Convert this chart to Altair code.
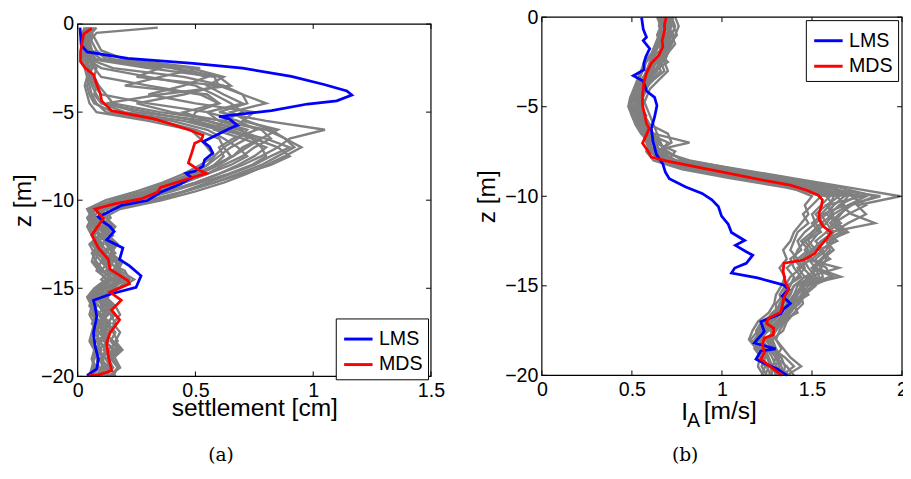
import altair as alt
import pandas as pd

FONT = "Liberation Sans"

# ---------------- panel (a): settlement ----------------
depth_a = [-0.2, -0.5, -1.0, -1.5, -2.0, -2.5, -3.0, -3.5, -4.0, -4.5,
           -5.0, -5.5, -6.0, -6.5, -7.0, -7.5, -8.0, -8.5, -9.0, -9.5,
           -10.0, -10.5, -11.0, -11.5, -12.0, -12.5, -13.0, -13.5, -14.0, -14.5,
           -15.0, -15.5, -16.0, -16.5, -17.0, -17.5, -18.0, -18.5, -19.0, -19.5, -20.0]

a_g01 = [0.34, 0.08, 0.05, 0.04, 0.06, 0.30, 0.58, 0.60, 0.45, 0.25, 0.40, 0.62, 0.78, 0.82, 0.75,
         0.70, 0.62, 0.55, 0.45, 0.33, 0.20, 0.08, 0.10, 0.14, 0.09, 0.13, 0.16, 0.12, 0.20, 0.22,
         0.10, 0.06, 0.09, 0.12, 0.10, 0.14, 0.10, 0.08, 0.12, 0.15, 0.10]
a_g02 = [0.06, 0.05, 0.04, 0.03, 0.05, 0.15, 0.45, 0.62, 0.70, 0.72, 0.60, 0.80, 1.05, 0.90, 0.85,
         0.78, 0.70, 0.60, 0.50, 0.38, 0.24, 0.10, 0.06, 0.08, 0.12, 0.07, 0.10, 0.14, 0.12, 0.18,
         0.15, 0.08, 0.06, 0.10, 0.14, 0.09, 0.12, 0.15, 0.09, 0.11, 0.07]
a_g03 = [0.04, 0.03, 0.02, 0.02, 0.03, 0.04, 0.05, 0.04, 0.05, 0.07, 0.15, 0.40, 0.55, 0.62, 0.68,
         0.72, 0.65, 0.55, 0.45, 0.35, 0.22, 0.06, 0.08, 0.05, 0.07, 0.10, 0.08, 0.12, 0.14, 0.10,
         0.16, 0.12, 0.15, 0.11, 0.13, 0.16, 0.14, 0.17, 0.13, 0.15, 0.12]
a_g04 = [0.08, 0.06, 0.05, 0.06, 0.07, 0.06, 0.05, 0.06, 0.08, 0.10, 0.30, 0.50, 0.65, 0.75, 0.85,
         0.90, 0.82, 0.70, 0.58, 0.45, 0.30, 0.12, 0.08, 0.10, 0.07, 0.11, 0.09, 0.13, 0.10, 0.16,
         0.13, 0.05, 0.08, 0.07, 0.10, 0.08, 0.06, 0.09, 0.07, 0.06, 0.05]
a_g05 = [0.05, 0.06, 0.08, 0.10, 0.20, 0.52, 0.35, 0.20, 0.55, 0.60, 0.45, 0.55, 0.70, 0.72, 0.65,
         0.60, 0.55, 0.48, 0.38, 0.28, 0.15, 0.05, 0.07, 0.09, 0.06, 0.08, 0.12, 0.10, 0.14, 0.13,
         0.08, 0.10, 0.13, 0.16, 0.12, 0.10, 0.13, 0.11, 0.14, 0.12, 0.09]
a_g06 = [0.03, 0.02, 0.02, 0.03, 0.04, 0.10, 0.30, 0.50, 0.58, 0.65, 0.70, 0.62, 0.58, 0.70, 0.80,
         0.75, 0.68, 0.60, 0.50, 0.38, 0.26, 0.12, 0.14, 0.10, 0.13, 0.15, 0.11, 0.16, 0.18, 0.24,
         0.18, 0.09, 0.12, 0.15, 0.13, 0.11, 0.15, 0.18, 0.14, 0.17, 0.14]
a_g07 = [0.07, 0.05, 0.04, 0.03, 0.03, 0.05, 0.04, 0.03, 0.04, 0.05, 0.08, 0.30, 0.48, 0.52, 0.55,
         0.58, 0.55, 0.48, 0.40, 0.30, 0.18, 0.07, 0.04, 0.06, 0.09, 0.05, 0.07, 0.06, 0.09, 0.12,
         0.07, 0.04, 0.06, 0.05, 0.07, 0.06, 0.05, 0.07, 0.06, 0.08, 0.04]
a_g08 = [0.05, 0.04, 0.03, 0.04, 0.08, 0.40, 0.55, 0.45, 0.30, 0.50, 0.75, 0.70, 0.85, 0.78, 0.70,
         0.66, 0.60, 0.50, 0.40, 0.30, 0.16, 0.09, 0.12, 0.15, 0.11, 0.16, 0.14, 0.19, 0.17, 0.21,
         0.14, 0.11, 0.14, 0.10, 0.12, 0.15, 0.17, 0.13, 0.16, 0.18, 0.13]
a_g09 = [0.04, 0.04, 0.03, 0.03, 0.04, 0.05, 0.06, 0.08, 0.07, 0.10, 0.20, 0.45, 0.60, 0.80, 0.90,
         0.82, 0.75, 0.65, 0.55, 0.45, 0.35, 0.15, 0.09, 0.12, 0.15, 0.10, 0.13, 0.17, 0.15, 0.19,
         0.11, 0.07, 0.11, 0.13, 0.09, 0.12, 0.09, 0.12, 0.10, 0.13, 0.11]
a_g10 = [0.06, 0.05, 0.06, 0.08, 0.12, 0.48, 0.62, 0.55, 0.62, 0.70, 0.55, 0.60, 0.72, 0.68, 0.62,
         0.58, 0.52, 0.45, 0.36, 0.25, 0.12, 0.04, 0.06, 0.04, 0.06, 0.09, 0.06, 0.08, 0.11, 0.14,
         0.09, 0.06, 0.05, 0.08, 0.06, 0.09, 0.08, 0.10, 0.08, 0.09, 0.06]
a_g11 = [0.05, 0.03, 0.02, 0.02, 0.02, 0.03, 0.04, 0.05, 0.06, 0.08, 0.12, 0.35, 0.50, 0.60, 0.62,
         0.65, 0.60, 0.52, 0.42, 0.32, 0.20, 0.10, 0.13, 0.11, 0.14, 0.12, 0.15, 0.11, 0.13, 0.17,
         0.12, 0.13, 0.10, 0.14, 0.16, 0.13, 0.11, 0.16, 0.12, 0.14, 0.16]
a_g12 = [0.04, 0.03, 0.03, 0.05, 0.10, 0.35, 0.25, 0.60, 0.70, 0.80, 0.65, 0.72, 0.82, 0.88, 0.92,
         0.85, 0.78, 0.68, 0.58, 0.46, 0.32, 0.08, 0.05, 0.07, 0.10, 0.06, 0.09, 0.07, 0.10, 0.15,
         0.10, 0.08, 0.07, 0.09, 0.11, 0.07, 0.10, 0.08, 0.11, 0.10, 0.08]
a_g13 = [0.05, 0.04, 0.04, 0.05, 0.06, 0.08, 0.07, 0.09, 0.12, 0.15, 0.35, 0.62, 0.80, 0.88, 0.95,
         0.88, 0.80, 0.72, 0.62, 0.50, 0.36, 0.18, 0.11, 0.09, 0.13, 0.16, 0.12, 0.10, 0.14, 0.18,
         0.16, 0.09, 0.10, 0.12, 0.08, 0.11, 0.13, 0.09, 0.12, 0.14, 0.10]
a_g14 = [0.07, 0.06, 0.05, 0.06, 0.15, 0.42, 0.60, 0.65, 0.35, 0.12, 0.25, 0.55, 0.68, 0.78, 0.72,
         0.66, 0.58, 0.52, 0.44, 0.34, 0.22, 0.11, 0.09, 0.12, 0.10, 0.14, 0.11, 0.15, 0.13, 0.18,
         0.12, 0.08, 0.11, 0.09, 0.13, 0.12, 0.09, 0.13, 0.10, 0.12, 0.09]
a_g15 = [0.03, 0.03, 0.04, 0.04, 0.05, 0.07, 0.10, 0.30, 0.52, 0.60, 0.50, 0.48, 0.62, 0.74, 0.78,
         0.80, 0.74, 0.64, 0.52, 0.40, 0.26, 0.07, 0.05, 0.08, 0.06, 0.09, 0.07, 0.10, 0.08, 0.13,
         0.08, 0.05, 0.07, 0.06, 0.09, 0.07, 0.06, 0.08, 0.06, 0.07, 0.05]
a_g16 = [0.06, 0.05, 0.05, 0.04, 0.05, 0.06, 0.05, 0.07, 0.10, 0.30, 0.55, 0.68, 0.76, 0.66, 0.60,
         0.62, 0.58, 0.50, 0.42, 0.30, 0.16, 0.10, 0.12, 0.16, 0.13, 0.17, 0.14, 0.18, 0.16, 0.22,
         0.17, 0.12, 0.16, 0.18, 0.15, 0.18, 0.16, 0.19, 0.15, 0.17, 0.15]

a_lms_x = [0.010, 0.015, 0.040, 0.213, 0.490, 0.700, 0.907, 1.046, 1.143, 1.164, 1.100, 0.976,
           0.823, 0.600, 0.643, 0.678, 0.643, 0.532, 0.560, 0.574, 0.539, 0.532, 0.497, 0.460,
           0.484, 0.435, 0.352, 0.296, 0.185, 0.144, 0.088, 0.109, 0.137, 0.155, 0.123, 0.192,
           0.178, 0.220, 0.269, 0.248, 0.144, 0.067, 0.074, 0.081, 0.067, 0.074, 0.088, 0.081, 0.040]
a_lms_z = [-0.2, -1.2, -1.58, -1.95, -2.23, -2.5, -2.97, -3.43, -3.8, -4.03, -4.36, -4.54,
           -4.92, -5.25, -5.38, -5.75, -5.94, -6.68, -6.96, -7.33, -7.7, -8.07, -8.35, -8.48,
           -8.72, -9.09, -9.55, -10.02, -10.3, -10.58, -10.95, -11.23, -11.5, -11.78, -12.25, -12.71,
           -13.36, -13.73, -14.29, -14.94, -15.31, -15.68, -16.05, -16.61, -17.54, -18.28, -19.02, -19.58, -19.95]

a_mds_x = [0.060, 0.026, 0.019, 0.012, 0.012, 0.032, 0.067, 0.081, 0.095, 0.102, 0.144, 0.213,
           0.324, 0.393, 0.477, 0.532, 0.525, 0.497, 0.484, 0.470, 0.511, 0.546, 0.463, 0.352,
           0.338, 0.269, 0.157, 0.074, 0.109, 0.060, 0.088, 0.130, 0.137, 0.213, 0.220, 0.137,
           0.185, 0.144, 0.178, 0.137, 0.123, 0.130, 0.144, 0.088, 0.047]
a_mds_z = [-0.24, -0.56, -1.02, -1.58, -2.13, -2.5, -2.87, -3.43, -3.9, -4.36, -4.92, -5.1,
           -5.38, -5.66, -6.03, -6.31, -6.59, -6.77, -7.33, -7.88, -8.26, -8.48, -8.81, -9.28,
           -9.55, -9.93, -10.21, -10.5, -11.04, -11.97, -12.71, -13.36, -13.92, -14.57, -14.75, -15.22,
           -15.68, -16.24, -16.79, -17.54, -18.1, -18.84, -19.67, -19.91, -19.95]

# ---------------- panel (b): Arias intensity ----------------
depth_b = [0.0, -0.5, -1.0, -1.5, -2.0, -2.5, -3.0, -3.5, -4.0, -4.5,
           -5.0, -5.5, -6.0, -6.5, -7.0, -7.5, -8.0, -8.5, -9.0, -9.5,
           -10.0, -10.5, -11.0, -11.5, -12.0, -12.5, -13.0, -13.5, -14.0, -14.5,
           -15.0, -15.5, -16.0, -16.5, -17.0, -17.5, -18.0, -18.5, -19.0, -19.5, -20.0]

b_g01 = [0.70, 0.72, 0.70, 0.68, 0.66, 0.62, 0.60, 0.58, 0.55, 0.54, 0.52, 0.55, 0.58, 0.60, 0.62,
         0.64, 0.75, 1.00, 1.30, 1.50, 1.62, 1.60, 1.55, 1.58, 1.62, 1.55, 1.50, 1.45, 1.48, 1.52,
         1.42, 1.40, 1.36, 1.32, 1.28, 1.25, 1.22, 1.26, 1.30, 1.28, 1.32]
b_g02 = [0.66, 0.65, 0.68, 0.70, 0.64, 0.60, 0.62, 0.58, 0.54, 0.52, 0.55, 0.58, 0.56, 0.62, 0.82,
         0.60, 0.70, 0.90, 1.20, 1.45, 1.80, 1.70, 1.62, 1.55, 1.50, 1.48, 1.52, 1.46, 1.65, 1.48,
         1.45, 1.40, 1.38, 1.35, 1.30, 1.26, 1.20, 1.25, 1.28, 1.30, 1.26]
b_g03 = [0.72, 0.74, 0.72, 0.70, 0.68, 0.66, 0.64, 0.60, 0.58, 0.56, 0.58, 0.60, 0.62, 0.64, 0.66,
         0.68, 0.80, 1.10, 1.40, 1.70, 1.99, 1.75, 1.80, 1.70, 1.62, 1.58, 1.60, 1.55, 1.50, 1.62,
         1.50, 1.45, 1.42, 1.38, 1.35, 1.32, 1.30, 1.34, 1.38, 1.44, 1.36]
b_g04 = [0.68, 0.70, 0.66, 0.64, 0.62, 0.58, 0.56, 0.54, 0.52, 0.50, 0.50, 0.52, 0.54, 0.56, 0.58,
         0.60, 0.66, 0.85, 1.15, 1.40, 1.55, 1.50, 1.45, 1.48, 1.42, 1.40, 1.38, 1.42, 1.36, 1.40,
         1.38, 1.35, 1.32, 1.30, 1.26, 1.22, 1.18, 1.20, 1.24, 1.22, 1.25]
b_g05 = [0.74, 0.76, 0.74, 0.72, 0.70, 0.68, 0.70, 0.65, 0.60, 0.58, 0.56, 0.57, 0.60, 0.70, 0.72,
         0.64, 0.72, 0.95, 1.25, 1.52, 1.70, 1.66, 1.72, 1.85, 1.60, 1.62, 1.55, 1.58, 1.55, 1.56,
         1.48, 1.44, 1.45, 1.40, 1.36, 1.34, 1.28, 1.30, 1.33, 1.35, 1.34]
b_g06 = [0.64, 0.66, 0.64, 0.66, 0.62, 0.60, 0.58, 0.56, 0.52, 0.50, 0.49, 0.50, 0.52, 0.55, 0.60,
         0.58, 0.62, 0.78, 1.05, 1.35, 1.58, 1.62, 1.58, 1.52, 1.55, 1.46, 1.42, 1.40, 1.44, 1.38,
         1.35, 1.32, 1.34, 1.28, 1.24, 1.20, 1.16, 1.22, 1.20, 1.24, 1.22]
b_g07 = [0.70, 0.68, 0.72, 0.74, 0.70, 0.66, 0.68, 0.62, 0.57, 0.55, 0.54, 0.56, 0.58, 0.60, 0.64,
         0.70, 0.78, 1.05, 1.35, 1.58, 1.75, 1.65, 1.60, 1.66, 1.58, 1.52, 1.56, 1.50, 1.58, 1.60,
         1.46, 1.42, 1.40, 1.42, 1.32, 1.28, 1.26, 1.28, 1.32, 1.30, 1.38]
b_g08 = [0.69, 0.71, 0.69, 0.67, 0.65, 0.70, 0.62, 0.60, 0.56, 0.53, 0.51, 0.53, 0.55, 0.58, 0.60,
         0.62, 0.70, 0.92, 1.22, 1.48, 1.65, 1.58, 1.52, 1.56, 1.50, 1.44, 1.48, 1.42, 1.45, 1.50,
         1.40, 1.37, 1.36, 1.33, 1.28, 1.24, 1.22, 1.24, 1.26, 1.28, 1.30]
b_g09 = [0.72, 0.70, 0.66, 0.65, 0.67, 0.63, 0.61, 0.57, 0.53, 0.51, 0.53, 0.55, 0.57, 0.59, 0.70,
         0.66, 0.74, 0.98, 1.28, 1.65, 1.85, 1.72, 1.65, 1.60, 1.66, 1.56, 1.52, 1.48, 1.52, 1.66,
         1.44, 1.48, 1.40, 1.36, 1.34, 1.30, 1.24, 1.28, 1.35, 1.40, 1.33]
b_g10 = [0.67, 0.69, 0.71, 0.69, 0.66, 0.64, 0.60, 0.56, 0.54, 0.52, 0.52, 0.54, 0.56, 0.58, 0.62,
         0.63, 0.68, 0.88, 1.18, 1.42, 1.60, 1.55, 1.50, 1.52, 1.46, 1.42, 1.44, 1.38, 1.40, 1.44,
         1.36, 1.34, 1.30, 1.30, 1.22, 1.19, 1.20, 1.18, 1.22, 1.26, 1.24]
b_g11 = [0.71, 0.73, 0.75, 0.71, 0.69, 0.67, 0.63, 0.59, 0.56, 0.55, 0.55, 0.56, 0.59, 0.61, 0.63,
         0.66, 0.82, 1.08, 1.38, 1.62, 1.72, 1.80, 1.70, 1.62, 1.68, 1.60, 1.58, 1.52, 1.55, 1.46,
         1.52, 1.46, 1.43, 1.36, 1.30, 1.27, 1.30, 1.33, 1.30, 1.36, 1.40]
b_g12 = [0.65, 0.67, 0.65, 0.63, 0.61, 0.57, 0.55, 0.53, 0.51, 0.49, 0.48, 0.50, 0.53, 0.57, 0.59,
         0.61, 0.64, 0.82, 1.10, 1.38, 1.50, 1.46, 1.48, 1.44, 1.40, 1.38, 1.34, 1.36, 1.32, 1.35,
         1.33, 1.30, 1.29, 1.26, 1.20, 1.17, 1.15, 1.19, 1.21, 1.20, 1.23]
b_g13 = [0.68, 0.70, 0.73, 0.72, 0.68, 0.64, 0.66, 0.61, 0.58, 0.56, 0.53, 0.54, 0.56, 0.60, 0.61,
         0.65, 0.72, 0.96, 1.24, 1.50, 1.68, 1.62, 1.58, 1.64, 1.70, 1.58, 1.62, 1.56, 1.52, 1.54,
         1.46, 1.44, 1.40, 1.38, 1.33, 1.30, 1.27, 1.29, 1.31, 1.33, 1.35]
b_g14 = [0.73, 0.71, 0.70, 0.72, 0.67, 0.65, 0.63, 0.57, 0.55, 0.53, 0.52, 0.54, 0.57, 0.62, 0.65,
         0.62, 0.69, 0.90, 1.16, 1.44, 1.64, 1.68, 1.56, 1.50, 1.54, 1.50, 1.46, 1.50, 1.42, 1.46,
         1.40, 1.38, 1.34, 1.31, 1.27, 1.23, 1.21, 1.23, 1.25, 1.27, 1.28]
b_g15 = [0.66, 0.68, 0.67, 0.65, 0.63, 0.61, 0.59, 0.55, 0.53, 0.51, 0.50, 0.51, 0.54, 0.56, 0.63,
         0.74, 0.70, 0.86, 1.12, 1.40, 1.78, 1.58, 1.62, 1.58, 1.52, 1.46, 1.50, 1.44, 1.46, 1.42,
         1.37, 1.36, 1.33, 1.29, 1.25, 1.21, 1.19, 1.21, 1.23, 1.25, 1.27]
b_g16 = [0.70, 0.69, 0.68, 0.70, 0.66, 0.63, 0.62, 0.59, 0.56, 0.54, 0.54, 0.55, 0.58, 0.60, 0.62,
         0.64, 0.73, 0.97, 1.26, 1.54, 1.88, 1.70, 1.66, 1.62, 1.58, 1.64, 1.54, 1.60, 1.50, 1.52,
         1.44, 1.41, 1.39, 1.37, 1.31, 1.29, 1.25, 1.27, 1.30, 1.32, 1.30]

b_lms_x = [0.554, 0.563, 0.581, 0.563, 0.599, 0.577, 0.566, 0.568, 0.508, 0.563, 0.581, 0.626,
           0.639, 0.626, 0.608, 0.617, 0.636, 0.672, 0.686, 0.708, 0.799, 0.890, 0.944, 0.980,
           0.998, 1.035, 1.053, 1.126, 1.075, 1.135, 1.171, 1.135, 1.071, 1.053, 1.198, 1.344,
           1.371, 1.334, 1.380, 1.344, 1.326, 1.216, 1.235, 1.180, 1.298, 1.216, 1.189, 1.243, 1.307, 1.362]
b_lms_z = [-0.03, -0.67, -1.12, -1.31, -1.76, -2.21, -2.58, -2.94, -3.27, -3.57, -4.12, -4.48,
           -4.93, -5.57, -6.21, -6.93, -7.66, -8.2, -8.66, -9.02, -9.48, -9.84, -10.2, -10.57,
           -11.11, -11.56, -12.02, -12.47, -12.74, -13.1, -13.29, -13.74, -14.01, -14.29, -14.56, -14.96,
           -15.2, -15.56, -15.98, -16.29, -16.56, -17.01, -17.55, -18.19, -18.52, -18.64, -19.1, -19.37, -19.64, -20.0]

b_mds_x = [0.690, 0.681, 0.681, 0.668, 0.672, 0.650, 0.608, 0.581, 0.566, 0.559, 0.559, 0.572,
           0.581, 0.596, 0.581, 0.559, 0.590, 0.608, 0.690, 0.871, 1.053, 1.235, 1.380, 1.471,
           1.534, 1.558, 1.552, 1.540, 1.540, 1.561, 1.607, 1.580, 1.534, 1.516, 1.453, 1.344,
           1.340, 1.353, 1.371, 1.344, 1.334, 1.326, 1.256, 1.248, 1.288, 1.285, 1.235, 1.225,
           1.235, 1.216, 1.262, 1.298, 1.334]
b_mds_z = [-0.03, -0.4, -0.76, -1.31, -1.67, -2.12, -2.58, -3.12, -3.67, -4.39, -4.93, -5.48,
           -5.94, -6.21, -6.57, -7.03, -7.48, -7.81, -8.02, -8.39, -8.75, -9.11, -9.38, -9.66,
           -9.93, -10.2, -10.57, -10.93, -11.29, -11.66, -12.02, -12.38, -12.93, -13.2, -13.56, -13.74,
           -14.19, -14.83, -15.2, -15.65, -16.19, -16.47, -16.83, -17.1, -17.37, -17.73, -17.92, -18.28,
           -18.74, -19.1, -19.46, -19.73, -20.0]

a_xticks = [0, 0.5, 1, 1.5]
b_xticks = [0, 0.5, 1, 1.5, 2]
z_ticks = [0, -5, -10, -15, -20]
methods = ["LMS", "MDS"]
method_colors = ["#0000ff", "#ff0000"]
captions = ["(a)", "(b)"]


def gray_frame(lines, depth):
    rows = []
    for k, xs in enumerate(lines):
        for i, (x, z) in enumerate(zip(xs, depth)):
            rows.append({"x": x, "z": z, "run": k, "i": i})
    return pd.DataFrame(rows)


def line_frame(xs, zs, name):
    return pd.DataFrame({"x": xs, "z": zs, "method": name, "i": list(range(len(xs)))})


def one(text):
    return pd.DataFrame({"t": [text]})


def panel(gray, lms, mds, xmax, xticks, W, H, top, xtitle, lx, ly, caption, extra):
    xs = alt.Scale(domain=[0, xmax], nice=False, zero=False)
    ys = alt.Scale(domain=[-20, 0], nice=False, zero=False, range=[H, top])
    axis_kw = dict(ticks=False, domain=False, grid=False, labelFlush=False,
                   labelFontSize=20, labelFont=FONT, labelColor="black", titleFontSize=25,
                   titleFont=FONT, titleColor="black", titleFontWeight="normal",
                   format="~g", labelOverlap=False)
    xaxis = alt.Axis(values=xticks, labelPadding=5, title=xtitle, titlePadding=-5, **axis_kw)
    yaxis = alt.Axis(values=z_ticks, labelPadding=4, title="z [m]", titlePadding=5, **axis_kw)

    def ex(f):
        return alt.X(f"{f}:Q", scale=xs, axis=xaxis)

    def ey(f):
        return alt.Y(f"{f}:Q", scale=ys, axis=yaxis)

    leg = alt.Legend(title=None, orient="none", legendX=lx, legendY=ly, symbolType="stroke",
                     symbolStrokeWidth=3, symbolSize=840, symbolOffset=2, labelFontSize=20,
                     labelFont=FONT, labelColor="black", strokeColor="black", fillColor="white",
                     padding=5, rowPadding=-3, labelOffset=5, cornerRadius=0)
    col = alt.Color("method:N", scale=alt.Scale(domain=methods, range=method_colors), legend=leg)

    g = alt.Chart(gray).mark_line(color="#808080", strokeWidth=2.4).encode(
        x=ex("x"), y=ey("z"), detail="run:N", order="i:Q")
    b = alt.Chart(lms).mark_line(strokeWidth=2.8).encode(x=ex("x"), y=ey("z"), color=col, order="i:Q")
    r = alt.Chart(mds).mark_line(strokeWidth=2.8).encode(x=ex("x"), y=ey("z"), color=col, order="i:Q")

    xt = pd.DataFrame({"v": xticks})
    yt = pd.DataFrame({"v": z_ticks})
    tl = 5
    t1 = alt.Chart(xt).mark_rule(color="black", strokeWidth=1).encode(
        x=ex("v"), y=alt.value(H), y2=alt.value(H - tl))
    t2 = alt.Chart(xt).mark_rule(color="black", strokeWidth=1).encode(
        x=ex("v"), y=alt.value(top), y2=alt.value(top + tl))
    t3 = alt.Chart(yt).mark_rule(color="black", strokeWidth=1).encode(
        y=ey("v"), x=alt.value(0), x2=alt.value(tl))
    t4 = alt.Chart(yt).mark_rule(color="black", strokeWidth=1).encode(
        y=ey("v"), x=alt.value(W), x2=alt.value(W - tl))
    frame = alt.Chart(one("f")).mark_rect(fillOpacity=0, stroke="black", strokeWidth=1.2).encode(
        x=alt.value(0), x2=alt.value(W), y=alt.value(top), y2=alt.value(H))
    cap = alt.Chart(one(caption)).mark_text(
        font="DejaVu Serif", fontSize=19, align="center", baseline="alphabetic",
        color="black").encode(text="t:N", x=alt.value(146), y=alt.value(452))

    layers = [g, b, r, t1, t2, t3, t4, frame, cap] + extra
    return alt.layer(*layers).properties(width=W, height=H)


gray_a = gray_frame([a_g01, a_g02, a_g03, a_g04, a_g05, a_g06, a_g07, a_g08, a_g09, a_g10,
                     a_g11, a_g12, a_g13, a_g14, a_g15, a_g16], depth_a)
gray_b = gray_frame([b_g01, b_g02, b_g03, b_g04, b_g05, b_g06, b_g07, b_g08, b_g09, b_g10,
                     b_g11, b_g12, b_g13, b_g14, b_g15, b_g16], depth_b)

lab_I = alt.Chart(one("I")).mark_text(
    font=FONT, fontSize=25, align="center", baseline="alphabetic", color="black").encode(
    text="t:N", x=alt.value(145.5), y=alt.value(410))
lab_A = alt.Chart(one("A")).mark_text(
    font=FONT, fontSize=20, align="left", baseline="alphabetic", color="black").encode(
    text="t:N", x=alt.value(148), y=alt.value(418))
lab_U = alt.Chart(one("[m/s]")).mark_text(
    font=FONT, fontSize=25, align="left", baseline="alphabetic", color="black").encode(
    text="t:N", x=alt.value(165), y=alt.value(409))

left = panel(gray_a, line_frame(a_lms_x, a_lms_z, "LMS"), line_frame(a_mds_x, a_mds_z, "MDS"),
             1.5, a_xticks, 360, 366, 7, "settlement [cm]", 263, 307, captions[0], [])
right = panel(gray_b, line_frame(b_lms_x, b_lms_z, "LMS"), line_frame(b_mds_x, b_mds_z, "MDS"),
              2, b_xticks, 367, 365, 0, None, 269, 3, captions[1], [lab_I, lab_A, lab_U])

chart = alt.hconcat(left, right, spacing=31).resolve_legend(color="independent").properties(
    padding={"left": 3, "top": -5, "right": -5, "bottom": -3}
).configure_view(strokeOpacity=0)

chart.save("out.html", embed_options={"renderer": "svg", "actions": False})
